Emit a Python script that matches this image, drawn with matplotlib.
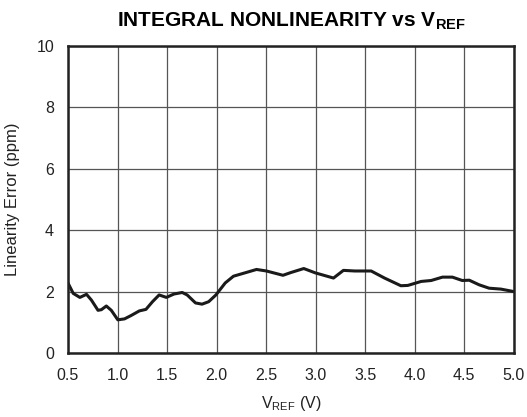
import numpy as np
import matplotlib.pyplot as plt

plt.rcParams["font.family"] = ["Liberation Sans", "DejaVu Sans"]
plt.rcParams["mathtext.fontset"] = "custom"
plt.rcParams["mathtext.rm"] = "Liberation Sans"
plt.rcParams["mathtext.bf"] = "Liberation Sans:bold"

# V_REF (V) and linearity error (ppm)
vref = [0.50, 0.553, 0.62, 0.687, 0.737, 0.803, 0.837, 0.887, 0.937, 1.003,
        1.07, 1.137, 1.22, 1.287, 1.353, 1.42, 1.493, 1.57, 1.653, 1.703,
        1.787, 1.853, 1.92, 1.993, 2.087, 2.17, 2.287, 2.403, 2.503, 2.67,
        2.75, 2.88, 2.995, 3.18, 3.28, 3.395, 3.56, 3.695, 3.86, 3.93,
        4.065, 4.165, 4.28, 4.38, 4.48, 4.55, 4.65, 4.75, 4.87, 5.0]
error = [2.28, 1.94, 1.81, 1.91, 1.72, 1.39, 1.41, 1.53, 1.39, 1.08,
         1.11, 1.22, 1.37, 1.42, 1.67, 1.89, 1.81, 1.92, 1.97, 1.89,
         1.63, 1.59, 1.67, 1.89, 2.28, 2.50, 2.61, 2.72, 2.67, 2.53,
         2.62, 2.75, 2.61, 2.44, 2.69, 2.67, 2.67, 2.44, 2.19, 2.20,
         2.33, 2.36, 2.47, 2.47, 2.36, 2.37, 2.22, 2.11, 2.08, 2.00]

xticks = [0.5, 1.0, 1.5, 2.0, 2.5, 3.0, 3.5, 4.0, 4.5, 5.0]
yticks = [0, 2, 4, 6, 8, 10]

fig = plt.figure(figsize=(5.27, 4.17), dpi=100)
ax = fig.add_axes([0.129, 0.1535, 0.846, 0.7365])

ax.plot(vref, error, color="#1a1a1a", linewidth=2.2, solid_joinstyle="round", solid_capstyle="round")

ax.set_xlim(0.5, 5.0)
ax.set_ylim(0, 10)
ax.set_xticks(xticks)
ax.set_xticklabels([f"{t:.1f}" for t in xticks])
ax.set_yticks(yticks)
ax.tick_params(length=0, labelsize=11.5, colors="#222222")
ax.tick_params(axis="x", pad=11)
ax.tick_params(axis="y", pad=10)
ax.grid(True, color="#555555", linewidth=0.9)
ax.set_axisbelow(True)
for s in ax.spines.values():
    s.set_linewidth(1.8)
    s.set_color("#222222")

ax.set_xlabel(r"V$_\mathregular{REF}$ (V)", fontsize=11.5, labelpad=8, color="#222222")
ax.set_ylabel("Linearity Error (ppm)", fontsize=12, labelpad=12, color="#222222")
ax.set_title(r"INTEGRAL NONLINEARITY vs V$_\mathbf{REF}$", fontsize=15, fontweight="bold", pad=14)

fig.savefig("out.png", dpi=100)
